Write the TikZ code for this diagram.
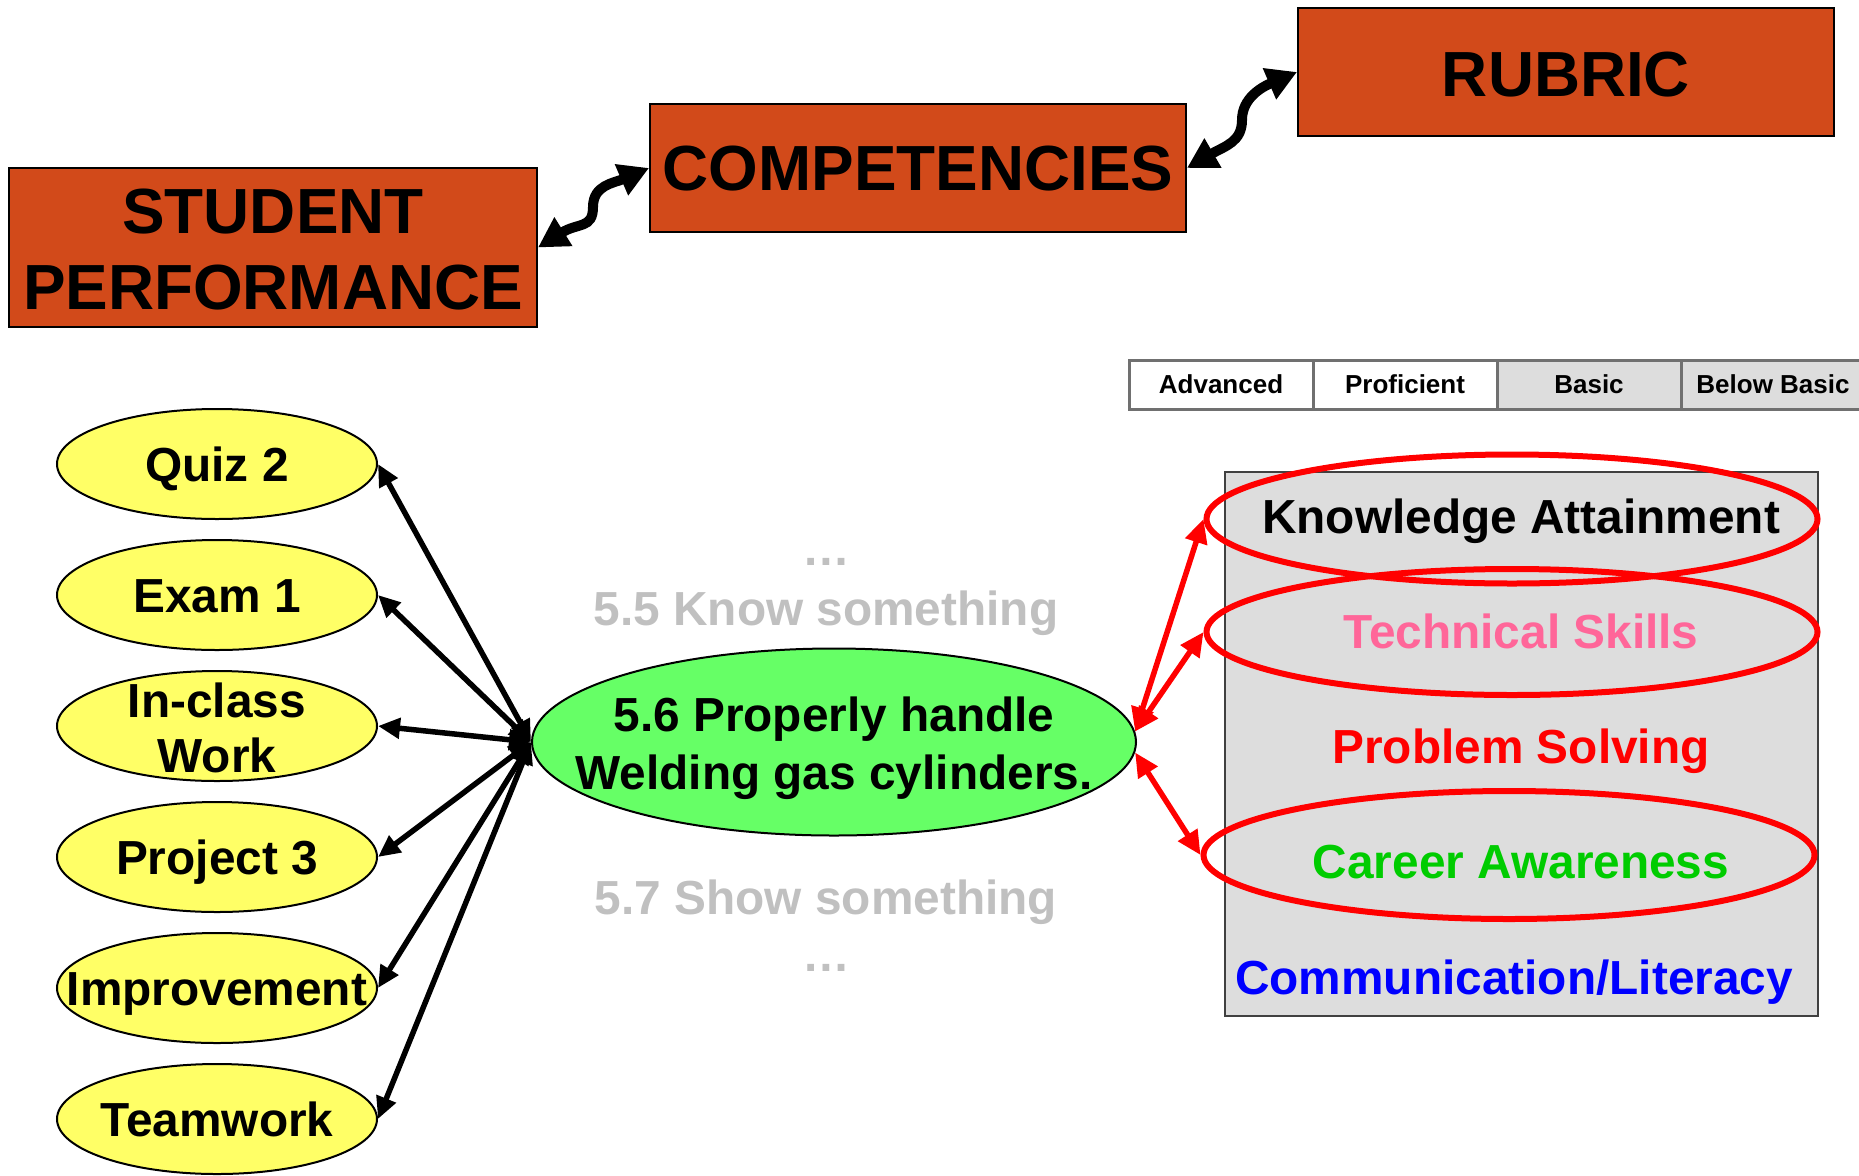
\documentclass[tikz,border=0pt]{standalone}
\usepackage{fontspec}
\setmainfont{Liberation Sans}
\usetikzlibrary{shapes.geometric,arrows.meta}
\definecolor{boxorange}{RGB}{210,74,26}
\definecolor{yelfill}{RGB}{255,255,102}
\definecolor{grnfill}{RGB}{102,255,102}
\definecolor{pinktext}{RGB}{255,102,153}
\definecolor{lgray}{RGB}{221,221,221}
\definecolor{tgray}{RGB}{192,192,192}
\definecolor{cgreen}{RGB}{0,204,0}
\definecolor{cellborder}{RGB}{112,112,112}
\begin{document}
\begin{tikzpicture}[x=1pt,y=-1pt,
  topbox/.style={draw=black, line width=2pt, fill=boxorange, inner sep=0pt,
    font=\fontsize{63.8}{76}\selectfont\bfseries, align=center},
  toptxt/.style={font=\fontsize{63.8}{76}\selectfont\bfseries, align=center, inner sep=0pt},
  cellbox/.style={draw=cellborder, line width=3pt, inner sep=0pt,
    minimum width=184pt, minimum height=49pt, font=\fontsize{26}{30}\selectfont\bfseries},
  yell/.style={ellipse, draw=black, line width=2pt, fill=yelfill, inner sep=0pt,
    minimum width=320pt, minimum height=110pt},
  bigtxt/.style={font=\fontsize{47.8}{55}\selectfont\bfseries, align=center, inner sep=0pt},
  one/.style={bigtxt, text height=34.2pt, text depth=0pt},
  redell/.style={ellipse, draw=red, line width=6pt, inner sep=0pt, minimum width=611pt},
  bigarr/.style={line width=10pt, {Triangle[length=30pt,width=32pt]}-{Triangle[length=30pt,width=32pt]}},
  blkarr/.style={line width=5.5pt, {Triangle[length=22pt,width=20pt]}-{Triangle[length=22pt,width=20pt]}},
  redarr/.style={draw=red, line width=5.5pt, {Triangle[length=24pt,width=22pt]}-{Triangle[length=24pt,width=22pt]}}
]
\useasboundingbox (0,0) rectangle (1859,1175);

% top boxes
\node[topbox, minimum width=528pt, minimum height=159pt] (sp) at (273,247.5) {};
\node[toptxt] at (273,250) {STUDENT\\PERFORMANCE};
\node[topbox, minimum width=536pt, minimum height=128pt] (comp) at (918,168) {};
\node[toptxt, text height=45.7pt, text depth=0pt] at (918,168) {COMPETENCIES};
\node[topbox, minimum width=536pt, minimum height=128pt] (rub) at (1566,72) {};
\node[toptxt, text height=45.7pt, text depth=0pt] at (1566,73.5) {RUBRIC};

\draw[bigarr] (sp.east) .. controls +(40,-25) and +(0,22) .. (593,207)
  .. controls +(0,-22) and +(-35,15) .. (comp.west);
\draw[bigarr] (comp.east) .. controls +(38,-22) and +(0,22) .. (1242,120)
  .. controls +(0,-22) and +(-35,15) .. (rub.west);

% rubric table
\node[cellbox, fill=white] (c1) at (1221,384.5) {Advanced};
\node[cellbox, fill=white] (c2) at (1405,384.5) {Proficient};
\node[cellbox, fill=lgray] (c3) at (1589,384.5) {Basic};
\node[cellbox, fill=lgray] (c4) at (1773,384.5) {Below Basic};

% left ellipses
\node[yell] (q) at (217,464) {};
\node[one] at (q) {Quiz 2};
\node[yell] (e) at (217,595) {};
\node[one] at (e) {Exam 1};
\node[yell] (w) at (217,726) {};
\node[bigtxt] at (217,727.5) {In-class\\Work};
\node[yell] (p) at (217,857) {};
\node[one] at (p) {Project 3};
\node[yell] (im) at (217,988) {};
\node[one] at (im) {Improvement};
\node[yell] (tw) at (217,1119) {};
\node[one] at (tw) {Teamwork};

% center
\node[ellipse, draw=black, line width=2pt, fill=grnfill, inner sep=0pt,
  minimum width=604pt, minimum height=187pt] (g) at (834,742) {};
\node[bigtxt, font=\fontsize{47.8}{58}\selectfont\bfseries] at (834,748) {5.6 Properly handle\\Welding gas cylinders.};

\node[one, text=tgray] (d1) at (826,548) {\dots};
\node[one, text=tgray] (k55) at (826,608) {5.5 Know something};
\node[one, text=tgray] (k57) at (826,897) {5.7 Show something};
\node[one, text=tgray] (d2) at (826,954) {\dots};

% right box
\node[draw=black!75, line width=2pt, fill=lgray, inner sep=0pt,
  minimum width=593pt, minimum height=544pt] (rb) at (1521.5,744) {};
\node[one, text=black] (ka) at (1521,516) {Knowledge Attainment};
\node[one, text=pinktext] (ts) at (1521,631) {Technical Skills};
\node[one, text=red] (ps) at (1521,746) {Problem Solving};
\node[one, text=cgreen] (ca) at (1521,861) {Career Awareness};
\node[one, text=blue] (cl) at (1514,977) {Communication/Literacy};

\node[redell, minimum height=129pt] (r1) at (1512,519) {};
\node[redell, minimum height=126pt] (r2) at (1512,632) {};
\node[redell, minimum height=128pt] (r3) at (1509,855) {};

% arrows
\foreach \n in {q,e,w,p,im,tw}{
  \draw[blkarr] (g.west) -- (\n.east);
}
\draw[redarr] (g.2) -- (r1.west);
\draw[redarr] (g.2) -- (r2.west);
\draw[redarr] (g.-2) -- (r3.west);
\end{tikzpicture}
\end{document}
